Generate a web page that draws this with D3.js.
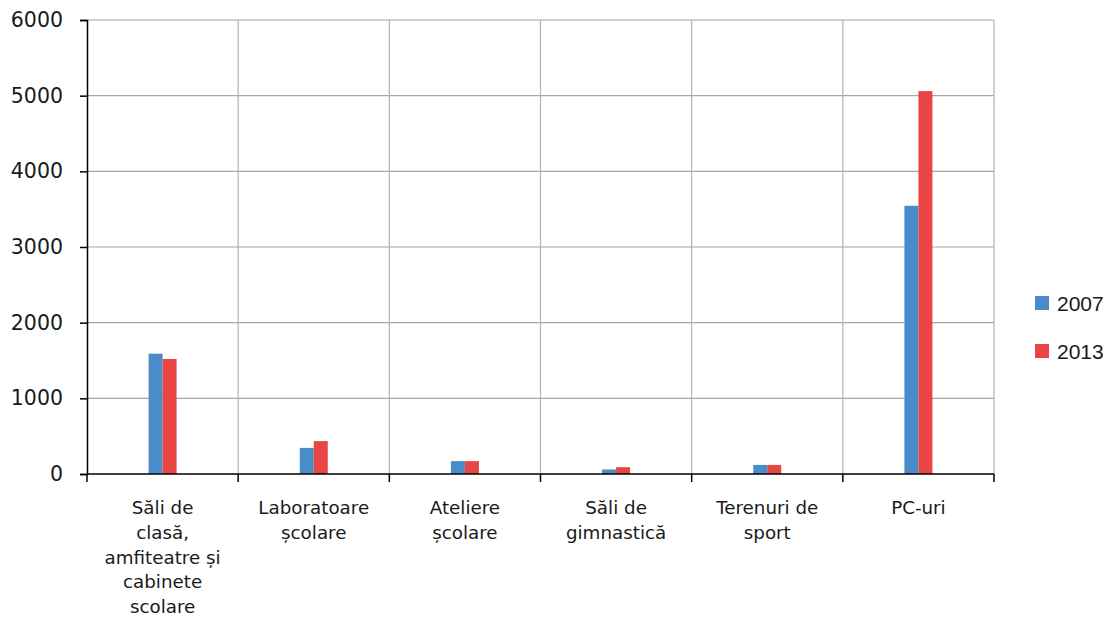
<!DOCTYPE html>
<html>
<head>
<meta charset="utf-8">
<script src="https://cdn.jsdelivr.net/npm/d3@7"></script>
<style>
  html, body { margin: 0; padding: 0; background: #fff; }
  svg { display: block; }
  text { font-family: "DejaVu Sans", sans-serif; fill: #1a1a1a; }
</style>
</head>
<body>
<svg id="chart" width="1108" height="618"></svg>
<script>
// Categories, each split into its display lines
const categories = [
  ["Săli de", "clasă,", "amfiteatre și", "cabinete", "scolare"],
  ["Laboratoare", "școlare"],
  ["Ateliere", "școlare"],
  ["Săli de", "gimnastică"],
  ["Terenuri de", "sport"],
  ["PC-uri"]
];
const seriesNames = ["2007", "2013"];
const values2007 = [1590, 345, 170, 60, 120, 3545];
const values2013 = [1520, 435, 170, 90, 120, 5060];
const yTicks = [0, 1000, 2000, 3000, 4000, 5000, 6000];
const colors = ["#4a8bca", "#e84545"];

const svg = d3.select("#chart");
const plot = { left: 87, right: 994, top: 20, bottom: 474 };

const x = d3.scaleBand()
  .domain(d3.range(categories.length))
  .range([plot.left, plot.right])
  .paddingInner(0).paddingOuter(0);

const y = d3.scaleLinear().domain([0, 6000]).range([plot.bottom, plot.top]);

// Horizontal gridlines
svg.append("g")
  .selectAll("line")
  .data(yTicks.filter(d => d > 0))
  .join("line")
  .attr("x1", plot.left).attr("x2", plot.right)
  .attr("y1", d => y(d)).attr("y2", d => y(d))
  .attr("stroke", "#a6a6a6").attr("stroke-width", 1.2);

// Vertical gridlines at category boundaries
const bounds = d3.range(1, categories.length + 1).map(i => plot.left + i * x.bandwidth());
svg.append("g")
  .selectAll("line")
  .data(bounds)
  .join("line")
  .attr("x1", d => d).attr("x2", d => d)
  .attr("y1", plot.top).attr("y2", plot.bottom)
  .attr("stroke", "#b3b3b3").attr("stroke-width", 1.2);

// Bars
const barW = 14;
const series = [values2007, values2013];
series.forEach((vals, si) => {
  svg.append("g")
    .selectAll("rect")
    .data(vals)
    .join("rect")
    .attr("x", (d, i) => x(i) + x.bandwidth() / 2 + (si - 1) * barW)
    .attr("width", barW)
    .attr("y", d => y(d))
    .attr("height", d => plot.bottom - y(d))
    .attr("fill", colors[si]);
});

// Y axis
const yAxis = d3.axisLeft(y).tickValues(yTicks).tickSize(7).tickPadding(17).tickFormat(d3.format("d"));
const gy = svg.append("g").attr("transform", `translate(${plot.left},0)`).call(yAxis);
gy.select(".domain").attr("stroke", "#000").attr("stroke-width", 1.5);
gy.selectAll(".tick line").attr("stroke", "#000").attr("stroke-width", 1.5);
gy.selectAll(".tick text").attr("font-size", 20.5).style("font-family", "'DejaVu Sans', sans-serif").attr("fill", "#1a1a1a");

// X axis baseline and boundary ticks
svg.append("line")
  .attr("x1", plot.left).attr("x2", plot.right)
  .attr("y1", plot.bottom).attr("y2", plot.bottom)
  .attr("stroke", "#000").attr("stroke-width", 1.5);
svg.append("g")
  .selectAll("line")
  .data([plot.left].concat(bounds))
  .join("line")
  .attr("x1", d => d).attr("x2", d => d)
  .attr("y1", plot.bottom).attr("y2", plot.bottom + 8)
  .attr("stroke", "#000").attr("stroke-width", 1.5);

// Category labels
const lab = svg.append("g")
  .selectAll("text")
  .data(categories)
  .join("text")
  .attr("text-anchor", "middle")
  .attr("font-size", 18.3)
  .attr("x", (d, i) => x(i) + x.bandwidth() / 2)
  .attr("y", 514);
lab.selectAll("tspan")
  .data(d => d)
  .join("tspan")
  .attr("x", function () { return d3.select(this.parentNode).attr("x"); })
  .attr("dy", (d, i) => i === 0 ? 0 : 24.8)
  .text(d => d);

// Legend
const leg = svg.append("g");
seriesNames.forEach((name, i) => {
  const ly = 296 + i * 48;
  leg.append("rect").attr("x", 1035).attr("y", ly).attr("width", 14).attr("height", 14).attr("fill", colors[i]);
  leg.append("text").attr("x", 1057).attr("y", ly + 15).attr("font-size", 21)
    .style("font-family", "'Liberation Sans', Arial, sans-serif").text(name);
});
</script>
</body>
</html>
